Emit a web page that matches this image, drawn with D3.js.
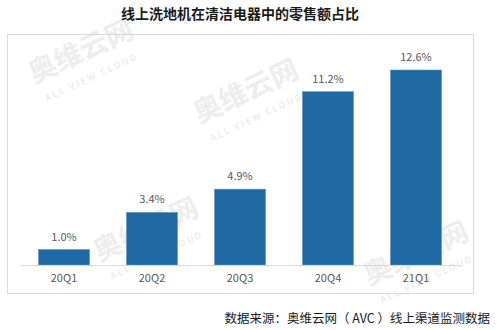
<!DOCTYPE html>
<html>
<head>
<meta charset="utf-8">
<script src="https://cdn.jsdelivr.net/npm/d3@7"></script>
<style>
  html, body { margin: 0; padding: 0; background: #fff; }
  svg { display: block; font-family: "Noto Sans CJK SC", "Noto Sans", sans-serif; }
</style>
</head>
<body>
<svg id="chart" width="500" height="330"></svg>
<script>
// Online floor-washer share of cleaning-appliance retail sales
const categories = ["20Q1", "20Q2", "20Q3", "20Q4", "21Q1"];
const shareValues = [1.0, 3.4, 4.9, 11.2, 12.6];
const titleText = "线上洗地机在清洁电器中的零售额占比";
const sourceText = "数据来源：奥维云网（ AVC ）线上渠道监测数据";

const svg = d3.select("#chart");

// faint brand watermarks behind the chart
const wm = svg.append("g").attr("fill", "#ededed").attr("font-weight", "bold");
[[85, 60], [250, 100], [420, 262], [150, 238]].forEach(([cx, cy]) => {
  wm.append("text").attr("transform", `translate(${cx},${cy}) rotate(-25)`)
    .attr("font-size", 28).attr("text-anchor", "middle").text("奥维云网");
  wm.append("text").attr("transform", `translate(${cx + 8},${cy + 20}) rotate(-25)`)
    .attr("font-size", 9).attr("text-anchor", "middle").attr("letter-spacing", 2).text("ALL VIEW CLOUD");
});

// chart frame
svg.append("rect").attr("x", 7.5).attr("y", 34.5).attr("width", 466).attr("height", 259)
  .attr("fill", "none").attr("stroke", "#d9d9d9");

// title
svg.append("text").attr("x", 240).attr("y", 19).attr("text-anchor", "middle")
  .attr("font-size", 14).attr("font-weight", "bold").attr("fill", "#1a1a1a").text(titleText);

const x = d3.scaleBand().domain(categories).range([20, 460]).paddingInner(0.42).paddingOuter(0.21);
const y = d3.scaleLinear().domain([0, 12.6]).range([265, 70]);

// bars
svg.append("g").selectAll("rect").data(shareValues).join("rect")
  .attr("x", (d, i) => x(categories[i]))
  .attr("y", d => y(d))
  .attr("width", x.bandwidth())
  .attr("height", d => y(0) - y(d))
  .attr("fill", "#1f69a4")
  .attr("stroke", "#5d95c6").attr("stroke-width", 0.6);

// value labels
svg.append("g").selectAll("text").data(shareValues).join("text")
  .attr("x", (d, i) => x(categories[i]) + x.bandwidth() / 2)
  .attr("y", d => y(d) - 9)
  .attr("text-anchor", "middle").attr("font-size", 11).attr("fill", "#595959")
  .text(d => d.toFixed(1) + "%");

// category axis
const axis = svg.append("g").attr("transform", `translate(0,${y(0)})`)
  .call(d3.axisBottom(x).tickSize(0).tickPadding(9));
axis.select(".domain").attr("stroke", "#d9d9d9");
axis.selectAll("text").attr("font-size", 11).attr("fill", "#595959")
  .attr("font-family", "\"Noto Sans CJK SC\", sans-serif");

// source note
svg.append("text").attr("x", 490).attr("y", 323).attr("text-anchor", "end")
  .attr("font-size", 12.5).attr("fill", "#1a1a1a").text(sourceText);
</script>
</body>
</html>
